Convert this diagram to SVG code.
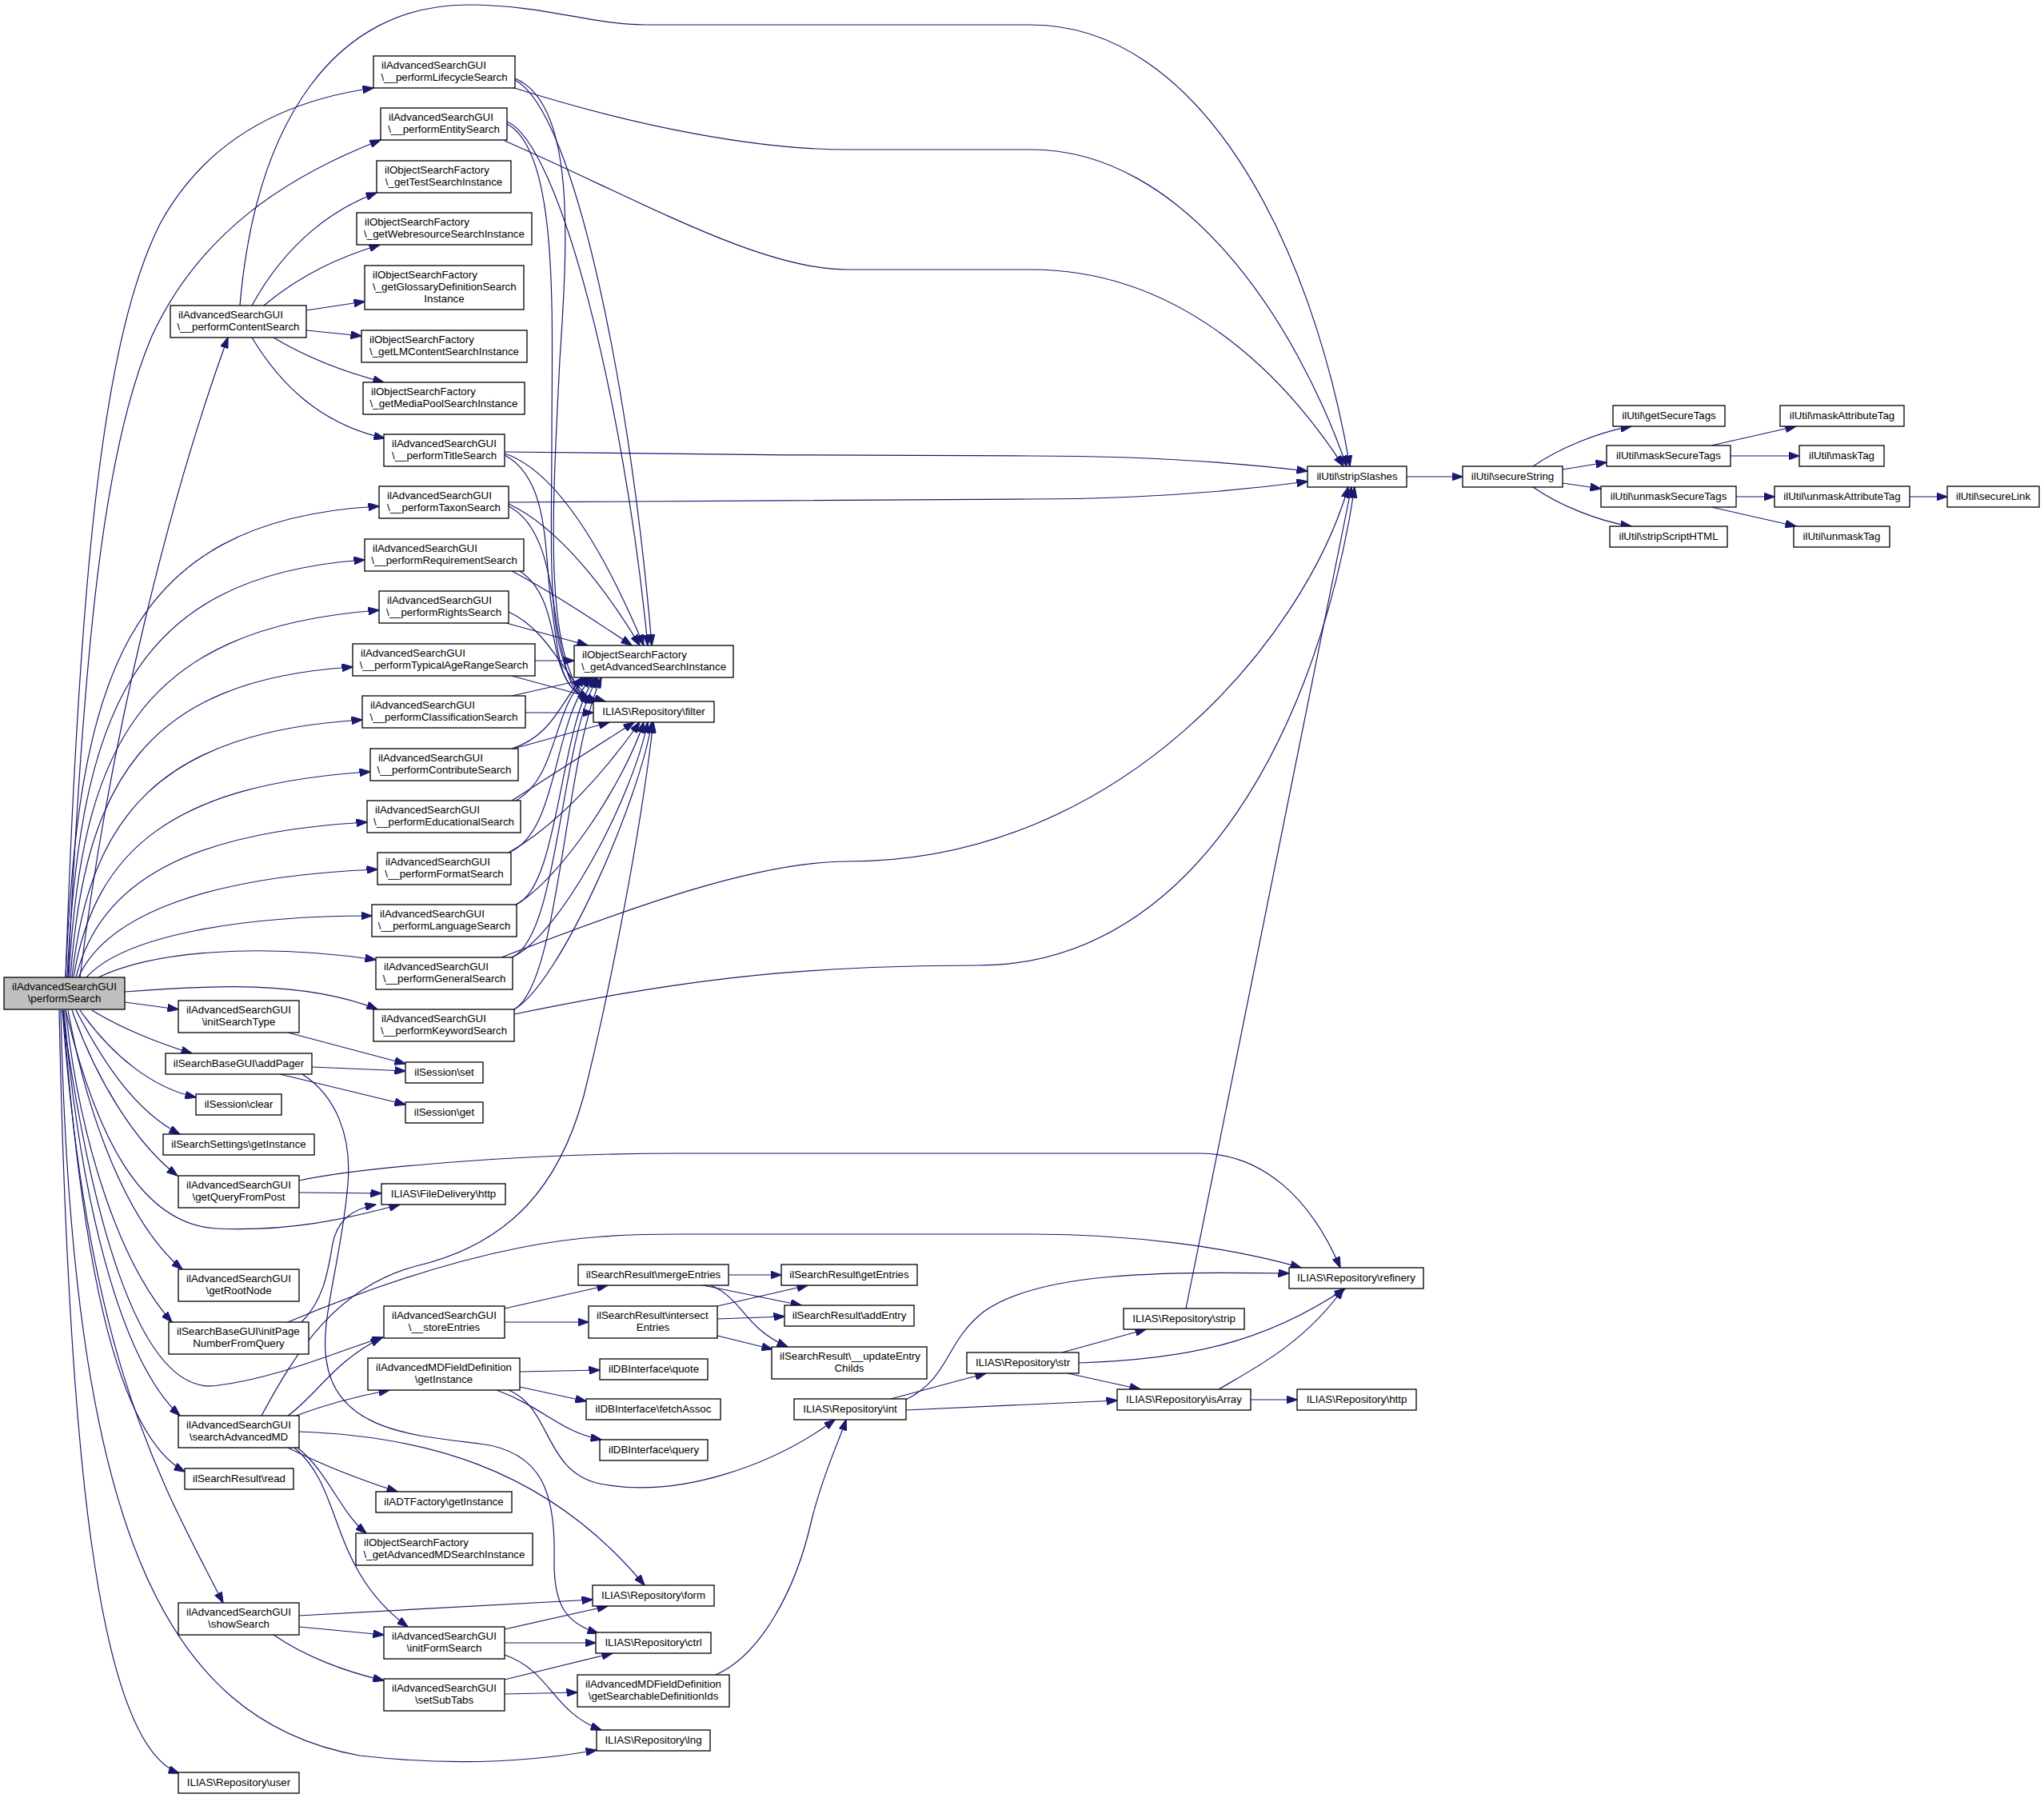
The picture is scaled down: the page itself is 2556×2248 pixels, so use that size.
<svg xmlns="http://www.w3.org/2000/svg" width="2556" height="2248" viewBox="0 0 2556 2248">
<defs>
<style>
.node rect{fill:#ffffff;stroke:#000000;stroke-width:1.3}
.root rect{fill:#bfbfbf}
text{font-family:"Liberation Sans",Arial,Helvetica,sans-serif;font-size:13.3px;fill:#000000}
.c{text-anchor:middle}
#edges path{fill:none;stroke:#191970;stroke-width:1.2;marker-end:url(#a)}
</style>
<marker id="a" markerUnits="userSpaceOnUse" markerWidth="14" markerHeight="10" viewBox="0 0 14 10" refX="13.5" refY="5" orient="auto"><path d="M0,0 L14,5 L0,10 z" fill="#191970" stroke="#191970" stroke-width="1"/></marker>
</defs>
<rect x="0" y="0" width="2556" height="2248" fill="#ffffff"/>
<g id="edges">
<path d="M82,1222 C100,700 130,420 200,280 C260,170 360,125 467,110"/>
<path d="M85,1222 C105,800 130,560 190,420 C250,290 360,220 476,175"/>
<path d="M100,1222 C140,900 220,600 285,422"/>
<path d="M82,1222 C98,857 150,650 474,633"/>
<path d="M84,1222 C100,900 160,720 456,700"/>
<path d="M86,1222 C102,940 170,785 474,763"/>
<path d="M88,1222 C106,980 180,850 441,834"/>
<path d="M90,1222 C112,1020 200,915 453,900"/>
<path d="M92,1222 C118,1060 220,980 463,965"/>
<path d="M95,1222 C125,1100 240,1040 459,1028"/>
<path d="M98,1222 C135,1140 270,1095 472,1087"/>
<path d="M108,1222 C155,1170 300,1145 465,1145"/>
<path d="M123,1222 C190,1190 320,1178 470,1200"/>
<path d="M156,1240 C260,1232 380,1225 472,1262"/>
<path d="M156,1253 L223,1262"/>
<path d="M115,1263 C150,1285 200,1305 240,1317"/>
<path d="M100,1263 C140,1320 190,1360 245,1372"/>
<path d="M95,1263 C130,1330 170,1390 225,1418"/>
<path d="M90,1263 C120,1350 170,1430 222,1470"/>
<path d="M82,1263 C120,1420 175,1530 270,1536 C360,1540 430,1525 500,1506"/>
<path d="M85,1263 C110,1400 160,1530 228,1587"/>
<path d="M82,1263 C100,1430 150,1580 215,1653"/>
<path d="M78,1263 C110,1500 170,1750 273,1732 C350,1722 420,1690 479,1672"/>
<path d="M80,1263 C100,1500 150,1700 225,1770"/>
<path d="M79,1263 C100,1550 140,1790 231,1840"/>
<path d="M78,1263 C110,1700 200,1850 279,2004"/>
<path d="M76,1263 C90,1900 200,2150 450,2195 C580,2210 680,2200 746,2188"/>
<path d="M74,1263 C85,1800 120,2180 224,2217"/>
<path d="M300,382 C320,150 420,6 585,6 C680,6 740,31 807,31 L1289,31 C1500,31 1640,300 1688,583"/>
<path d="M315,382 C360,300 420,260 471,241"/>
<path d="M330,382 C380,340 430,320 475,306"/>
<path d="M383,388 L456,377"/>
<path d="M383,413 L452,420"/>
<path d="M342,422 C380,445 430,465 480,478"/>
<path d="M315,422 C350,480 400,530 481,548"/>
<path d="M640,109 C800,160 950,187 1059,187 L1289,187 C1480,187 1620,400 1684,583"/>
<path d="M644,100 C720,140 790,500 815,807"/>
<path d="M644,98 C720,130 710,300 700,450 C690,650 680,820 735,877"/>
<path d="M631,176 C800,250 950,337 1059,337 L1289,337 C1470,337 1600,460 1680,583"/>
<path d="M634,152 C700,180 780,500 810,807"/>
<path d="M634,155 C700,190 690,400 690,550 C690,700 680,840 738,877"/>
<path d="M631,565 C800,568 1100,570 1289,570 C1450,570 1560,580 1635,589"/>
<path d="M631,567 C700,590 760,700 805,807"/>
<path d="M631,569 C690,600 680,700 690,760 C700,830 700,860 740,878"/>
<path d="M636,628 L1289,624 C1450,624 1560,612 1635,602"/>
<path d="M636,630 C700,660 760,740 800,807"/>
<path d="M636,633 C690,660 690,760 700,800 C710,850 715,870 745,878"/>
<path d="M640,714 C690,740 750,780 790,807"/>
<path d="M650,714 C690,740 690,800 700,830 C710,860 720,870 750,878"/>
<path d="M633,779 L735,807"/>
<path d="M636,765 C690,790 705,850 745,879"/>
<path d="M669,826 L718,826"/>
<path d="M640,845 L757,877"/>
<path d="M640,870 L742,847"/>
<path d="M657,891 L742,891"/>
<path d="M640,936 C690,920 700,880 728,847"/>
<path d="M642,936 L762,903"/>
<path d="M645,1001 C700,970 690,880 735,847"/>
<path d="M640,1001 L793,903"/>
<path d="M636,1066 C700,1040 690,900 740,847"/>
<path d="M636,1066 C700,1030 760,960 800,903"/>
<path d="M645,1131 C700,1110 700,900 745,847"/>
<path d="M645,1131 C700,1100 780,980 805,903"/>
<path d="M640,1197 C700,1170 700,920 748,847"/>
<path d="M640,1197 C700,1170 790,1000 810,903"/>
<path d="M627,1197 C800,1130 950,1077 1060,1077 C1400,1077 1630,800 1686,609"/>
<path d="M643,1262 C700,1230 705,950 752,847"/>
<path d="M643,1262 C700,1230 800,1000 815,903"/>
<path d="M643,1268 C850,1225 1000,1207 1223,1207 C1500,1207 1650,900 1694,609"/>
<path d="M360,1291 L507,1330"/>
<path d="M390,1334 L507,1339"/>
<path d="M350,1343 L507,1381"/>
<path d="M378,1343 C420,1370 440,1420 435,1480 C428,1570 400,1650 408,1700 C420,1790 520,1795 600,1805 C680,1815 695,1870 693,1950 C692,2010 710,2030 748,2042"/>
<path d="M374,1491 L477,1492"/>
<path d="M374,1476 C450,1460 650,1442 850,1442 L1500,1442 C1580,1442 1640,1500 1676,1585"/>
<path d="M377,1653 C405,1625 410,1590 416,1555 C422,1525 440,1512 470,1506"/>
<path d="M360,1653 C450,1615 550,1580 650,1560 C720,1546 780,1543 850,1543 L1290,1543 C1420,1543 1540,1560 1627,1585"/>
<path d="M631,1636 L760,1607"/>
<path d="M631,1653 L736,1653"/>
<path d="M911,1594 L977,1594"/>
<path d="M879,1607 L1002,1632"/>
<path d="M889,1607 C930,1625 930,1660 985,1684"/>
<path d="M897,1633 L1010,1607"/>
<path d="M897,1649 L981,1646"/>
<path d="M897,1670 L966,1687"/>
<path d="M650,1715 L750,1713"/>
<path d="M650,1734 L733,1752"/>
<path d="M621,1738 C680,1760 700,1790 752,1800"/>
<path d="M636,1738 C690,1760 680,1840 750,1855 C850,1875 970,1830 1044,1775"/>
<path d="M370,1770 C410,1755 450,1745 487,1738"/>
<path d="M360,1770 C395,1745 420,1700 477,1673"/>
<path d="M327,1770 C370,1690 420,1610 520,1583 C640,1555 700,1480 730,1370 C760,1250 800,1050 817,903"/>
<path d="M374,1790 C520,1795 680,1830 806,1982"/>
<path d="M360,1810 C400,1830 450,1850 497,1865"/>
<path d="M372,1810 C410,1840 425,1890 458,1917"/>
<path d="M368,1810 C430,1860 410,1960 510,2034"/>
<path d="M374,2020 L741,2000"/>
<path d="M374,2034 L480,2044"/>
<path d="M342,2044 C380,2070 430,2090 480,2101"/>
<path d="M631,2037 L760,2008"/>
<path d="M631,2054 L745,2054"/>
<path d="M631,2069 C690,2090 690,2140 752,2163"/>
<path d="M631,2100 L766,2067"/>
<path d="M631,2118 L722,2116"/>
<path d="M895,2094 C950,2070 995,1990 1015,1900 C1030,1840 1050,1800 1058,1775"/>
<path d="M1114,1749 L1233,1717"/>
<path d="M1133,1763 L1397,1751"/>
<path d="M1133,1750 C1190,1720 1180,1680 1230,1640 C1300,1590 1450,1590 1612,1592"/>
<path d="M1328,1691 L1433,1662"/>
<path d="M1349,1704 C1480,1700 1580,1680 1682,1611"/>
<path d="M1335,1717 L1426,1737"/>
<path d="M1524,1737 C1570,1710 1630,1680 1680,1611"/>
<path d="M1564,1750 L1622,1750"/>
<path d="M1483,1636 L1690,609"/>
<path d="M1759,596 L1829,596"/>
<path d="M1917,583 C1950,560 2000,540 2040,533"/>
<path d="M1954,587 L2009,578"/>
<path d="M1954,604 L2002,611"/>
<path d="M1917,609 C1950,632 2000,652 2040,658"/>
<path d="M2140,557 L2246,533"/>
<path d="M2164,570 L2250,570"/>
<path d="M2171,621 L2219,621"/>
<path d="M2140,634 L2246,658"/>
<path d="M2388,621 L2435,621"/>
</g>
<g id="n0" class="node root"><rect x="5" y="1222" width="151" height="40"/><text x="15" y="1238">ilAdvancedSearchGUI</text><text class="c" x="80.5" y="1253">\performSearch</text></g>
<g id="n1" class="node"><rect x="467" y="70" width="177" height="40"/><text x="477" y="86">ilAdvancedSearchGUI</text><text class="c" x="555.5" y="101">\__performLifecycleSearch</text></g>
<g id="n2" class="node"><rect x="476" y="135" width="158" height="40"/><text x="486" y="151">ilAdvancedSearchGUI</text><text class="c" x="555" y="166">\__performEntitySearch</text></g>
<g id="n3" class="node"><rect x="471" y="201" width="168" height="40"/><text x="481" y="217">ilObjectSearchFactory</text><text class="c" x="555" y="232">\_getTestSearchInstance</text></g>
<g id="n4" class="node"><rect x="446" y="266" width="219" height="40"/><text x="456" y="282">ilObjectSearchFactory</text><text class="c" x="555.5" y="297">\_getWebresourceSearchInstance</text></g>
<g id="n5" class="node"><rect x="456" y="332" width="199" height="55"/><text x="466" y="348">ilObjectSearchFactory</text><text x="466" y="363">\_getGlossaryDefinitionSearch</text><text class="c" x="555.5" y="378">Instance</text></g>
<g id="n6" class="node"><rect x="452" y="413" width="207" height="40"/><text x="462" y="429">ilObjectSearchFactory</text><text class="c" x="555.5" y="444">\_getLMContentSearchInstance</text></g>
<g id="n7" class="node"><rect x="454" y="478" width="202" height="40"/><text x="464" y="494">ilObjectSearchFactory</text><text class="c" x="555" y="509">\_getMediaPoolSearchInstance</text></g>
<g id="n8" class="node"><rect x="213" y="382" width="170" height="40"/><text x="223" y="398">ilAdvancedSearchGUI</text><text class="c" x="298" y="413">\__performContentSearch</text></g>
<g id="n9" class="node"><rect x="480" y="543" width="151" height="40"/><text x="490" y="559">ilAdvancedSearchGUI</text><text class="c" x="555.5" y="574">\__performTitleSearch</text></g>
<g id="n10" class="node"><rect x="474" y="608" width="162" height="40"/><text x="484" y="624">ilAdvancedSearchGUI</text><text class="c" x="555" y="639">\__performTaxonSearch</text></g>
<g id="n11" class="node"><rect x="456" y="674" width="199" height="40"/><text x="466" y="690">ilAdvancedSearchGUI</text><text class="c" x="555.5" y="705">\__performRequirementSearch</text></g>
<g id="n12" class="node"><rect x="474" y="739" width="162" height="40"/><text x="484" y="755">ilAdvancedSearchGUI</text><text class="c" x="555" y="770">\__performRightsSearch</text></g>
<g id="n13" class="node"><rect x="441" y="805" width="228" height="40"/><text x="451" y="821">ilAdvancedSearchGUI</text><text class="c" x="555" y="836">\__performTypicalAgeRangeSearch</text></g>
<g id="n14" class="node"><rect x="453" y="870" width="204" height="40"/><text x="463" y="886">ilAdvancedSearchGUI</text><text class="c" x="555" y="901">\__performClassificationSearch</text></g>
<g id="n15" class="node"><rect x="463" y="936" width="185" height="40"/><text x="473" y="952">ilAdvancedSearchGUI</text><text class="c" x="555.5" y="967">\__performContributeSearch</text></g>
<g id="n16" class="node"><rect x="459" y="1001" width="192" height="40"/><text x="469" y="1017">ilAdvancedSearchGUI</text><text class="c" x="555" y="1032">\__performEducationalSearch</text></g>
<g id="n17" class="node"><rect x="472" y="1066" width="167" height="40"/><text x="482" y="1082">ilAdvancedSearchGUI</text><text class="c" x="555.5" y="1097">\__performFormatSearch</text></g>
<g id="n18" class="node"><rect x="465" y="1131" width="181" height="40"/><text x="475" y="1147">ilAdvancedSearchGUI</text><text class="c" x="555.5" y="1162">\__performLanguageSearch</text></g>
<g id="n19" class="node"><rect x="470" y="1197" width="171" height="40"/><text x="480" y="1213">ilAdvancedSearchGUI</text><text class="c" x="555.5" y="1228">\__performGeneralSearch</text></g>
<g id="n20" class="node"><rect x="467" y="1262" width="176" height="40"/><text x="477" y="1278">ilAdvancedSearchGUI</text><text class="c" x="555" y="1293">\__performKeywordSearch</text></g>
<g id="n21" class="node"><rect x="718" y="807" width="199" height="40"/><text x="728" y="823">ilObjectSearchFactory</text><text class="c" x="817.5" y="838">\_getAdvancedSearchInstance</text></g>
<g id="n22" class="node"><rect x="742" y="877" width="151" height="26"/><text class="c" x="817.5" y="893.5">ILIAS\Repository\filter</text></g>
<g id="n23" class="node"><rect x="223" y="1251" width="151" height="40"/><text x="233" y="1267">ilAdvancedSearchGUI</text><text class="c" x="298.5" y="1282">\initSearchType</text></g>
<g id="n24" class="node"><rect x="207" y="1317" width="183" height="26"/><text class="c" x="298.5" y="1333.5">ilSearchBaseGUI\addPager</text></g>
<g id="n25" class="node"><rect x="507" y="1328" width="97" height="26"/><text class="c" x="555.5" y="1344.5">ilSession\set</text></g>
<g id="n26" class="node"><rect x="245" y="1368" width="107" height="26"/><text class="c" x="298.5" y="1384.5">ilSession\clear</text></g>
<g id="n27" class="node"><rect x="507" y="1378" width="97" height="26"/><text class="c" x="555.5" y="1394.5">ilSession\get</text></g>
<g id="n28" class="node"><rect x="204" y="1418" width="189" height="26"/><text class="c" x="298.5" y="1434.5">ilSearchSettings\getInstance</text></g>
<g id="n29" class="node"><rect x="223" y="1470" width="151" height="40"/><text x="233" y="1486">ilAdvancedSearchGUI</text><text class="c" x="298.5" y="1501">\getQueryFromPost</text></g>
<g id="n30" class="node"><rect x="477" y="1480" width="155" height="26"/><text class="c" x="554.5" y="1496.5">ILIAS\FileDelivery\http</text></g>
<g id="n31" class="node"><rect x="223" y="1587" width="151" height="40"/><text x="233" y="1603">ilAdvancedSearchGUI</text><text class="c" x="298.5" y="1618">\getRootNode</text></g>
<g id="n32" class="node"><rect x="211" y="1653" width="175" height="40"/><text x="221" y="1669">ilSearchBaseGUI\initPage</text><text class="c" x="298.5" y="1684">NumberFromQuery</text></g>
<g id="n33" class="node"><rect x="480" y="1633" width="151" height="40"/><text x="490" y="1649">ilAdvancedSearchGUI</text><text class="c" x="555.5" y="1664">\__storeEntries</text></g>
<g id="n34" class="node"><rect x="723" y="1581" width="188" height="26"/><text class="c" x="817" y="1597.5">ilSearchResult\mergeEntries</text></g>
<g id="n35" class="node"><rect x="736" y="1633" width="161" height="40"/><text x="746" y="1649">ilSearchResult\intersect</text><text class="c" x="816.5" y="1664">Entries</text></g>
<g id="n36" class="node"><rect x="977" y="1581" width="170" height="26"/><text class="c" x="1062" y="1597.5">ilSearchResult\getEntries</text></g>
<g id="n37" class="node"><rect x="981" y="1632" width="162" height="26"/><text class="c" x="1062" y="1648.5">ilSearchResult\addEntry</text></g>
<g id="n38" class="node"><rect x="965" y="1684" width="194" height="40"/><text x="975" y="1700">ilSearchResult\__updateEntry</text><text class="c" x="1062" y="1715">Childs</text></g>
<g id="n39" class="node"><rect x="460" y="1698" width="190" height="40"/><text x="470" y="1714">ilAdvancedMDFieldDefinition</text><text class="c" x="555" y="1729">\getInstance</text></g>
<g id="n40" class="node"><rect x="750" y="1699" width="135" height="26"/><text class="c" x="817.5" y="1715.5">ilDBInterface\quote</text></g>
<g id="n41" class="node"><rect x="733" y="1749" width="168" height="26"/><text class="c" x="817" y="1765.5">ilDBInterface\fetchAssoc</text></g>
<g id="n42" class="node"><rect x="750" y="1800" width="135" height="26"/><text class="c" x="817.5" y="1816.5">ilDBInterface\query</text></g>
<g id="n43" class="node"><rect x="223" y="1770" width="151" height="40"/><text x="233" y="1786">ilAdvancedSearchGUI</text><text class="c" x="298.5" y="1801">\searchAdvancedMD</text></g>
<g id="n44" class="node"><rect x="231" y="1836" width="136" height="26"/><text class="c" x="299" y="1852.5">ilSearchResult\read</text></g>
<g id="n45" class="node"><rect x="470" y="1865" width="170" height="26"/><text class="c" x="555" y="1881.5">ilADTFactory\getInstance</text></g>
<g id="n46" class="node"><rect x="445" y="1917" width="221" height="40"/><text x="455" y="1933">ilObjectSearchFactory</text><text class="c" x="555.5" y="1948">\_getAdvancedMDSearchInstance</text></g>
<g id="n47" class="node"><rect x="223" y="2004" width="151" height="40"/><text x="233" y="2020">ilAdvancedSearchGUI</text><text class="c" x="298.5" y="2035">\showSearch</text></g>
<g id="n48" class="node"><rect x="741" y="1982" width="152" height="26"/><text class="c" x="817" y="1998.5">ILIAS\Repository\form</text></g>
<g id="n49" class="node"><rect x="480" y="2034" width="151" height="40"/><text x="490" y="2050">ilAdvancedSearchGUI</text><text class="c" x="555.5" y="2065">\initFormSearch</text></g>
<g id="n50" class="node"><rect x="745" y="2041" width="144" height="26"/><text class="c" x="817" y="2057.5">ILIAS\Repository\ctrl</text></g>
<g id="n51" class="node"><rect x="480" y="2099" width="151" height="40"/><text x="490" y="2115">ilAdvancedSearchGUI</text><text class="c" x="555.5" y="2130">\setSubTabs</text></g>
<g id="n52" class="node"><rect x="722" y="2094" width="190" height="40"/><text x="732" y="2110">ilAdvancedMDFieldDefinition</text><text class="c" x="817" y="2125">\getSearchableDefinitionIds</text></g>
<g id="n53" class="node"><rect x="746" y="2163" width="142" height="26"/><text class="c" x="817" y="2179.5">ILIAS\Repository\lng</text></g>
<g id="n54" class="node"><rect x="223" y="2216" width="151" height="26"/><text class="c" x="298.5" y="2232.5">ILIAS\Repository\user</text></g>
<g id="n55" class="node"><rect x="993" y="1749" width="140" height="26"/><text class="c" x="1063" y="1765.5">ILIAS\Repository\int</text></g>
<g id="n56" class="node"><rect x="1209" y="1691" width="140" height="26"/><text class="c" x="1279" y="1707.5">ILIAS\Repository\str</text></g>
<g id="n57" class="node"><rect x="1405" y="1636" width="151" height="26"/><text class="c" x="1480.5" y="1652.5">ILIAS\Repository\strip</text></g>
<g id="n58" class="node"><rect x="1612" y="1585" width="168" height="26"/><text class="c" x="1696" y="1601.5">ILIAS\Repository\refinery</text></g>
<g id="n59" class="node"><rect x="1397" y="1737" width="167" height="26"/><text class="c" x="1480.5" y="1753.5">ILIAS\Repository\isArray</text></g>
<g id="n60" class="node"><rect x="1622" y="1737" width="149" height="26"/><text class="c" x="1696.5" y="1753.5">ILIAS\Repository\http</text></g>
<g id="n61" class="node"><rect x="1635" y="583" width="124" height="26"/><text class="c" x="1697" y="599.5">ilUtil\stripSlashes</text></g>
<g id="n62" class="node"><rect x="1829" y="583" width="125" height="26"/><text class="c" x="1891.5" y="599.5">ilUtil\secureString</text></g>
<g id="n63" class="node"><rect x="2017" y="507" width="140" height="26"/><text class="c" x="2087" y="523.5">ilUtil\getSecureTags</text></g>
<g id="n64" class="node"><rect x="2009" y="557" width="155" height="26"/><text class="c" x="2086.5" y="573.5">ilUtil\maskSecureTags</text></g>
<g id="n65" class="node"><rect x="2002" y="608" width="169" height="26"/><text class="c" x="2086.5" y="624.5">ilUtil\unmaskSecureTags</text></g>
<g id="n66" class="node"><rect x="2013" y="658" width="147" height="26"/><text class="c" x="2086.5" y="674.5">ilUtil\stripScriptHTML</text></g>
<g id="n67" class="node"><rect x="2226" y="507" width="155" height="26"/><text class="c" x="2303.5" y="523.5">ilUtil\maskAttributeTag</text></g>
<g id="n68" class="node"><rect x="2250" y="557" width="106" height="26"/><text class="c" x="2303" y="573.5">ilUtil\maskTag</text></g>
<g id="n69" class="node"><rect x="2219" y="608" width="169" height="26"/><text class="c" x="2303.5" y="624.5">ilUtil\unmaskAttributeTag</text></g>
<g id="n70" class="node"><rect x="2243" y="658" width="120" height="26"/><text class="c" x="2303" y="674.5">ilUtil\unmaskTag</text></g>
<g id="n71" class="node"><rect x="2435" y="608" width="115" height="26"/><text class="c" x="2492.5" y="624.5">ilUtil\secureLink</text></g>
</svg>
